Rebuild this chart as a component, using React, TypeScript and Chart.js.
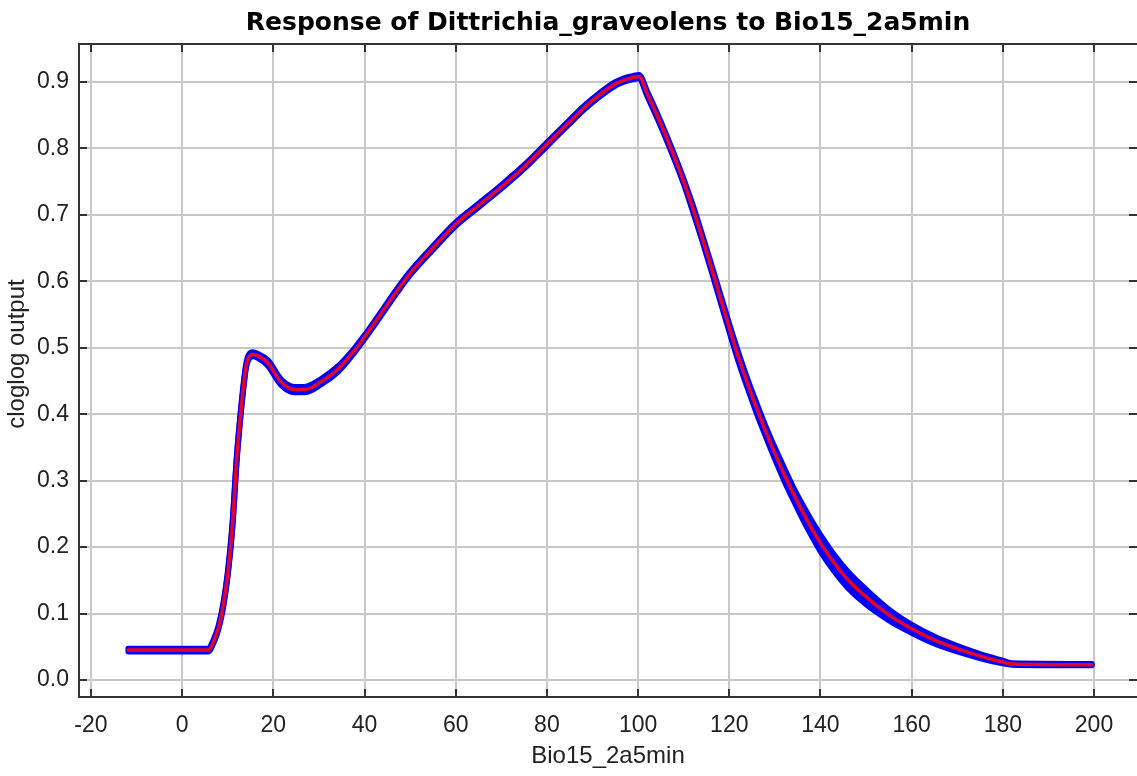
import React, { useEffect, useRef } from "react";
import { Chart, registerables } from "chart.js";

Chart.register(...registerables);

const titleText = "Response of Dittrichia_graveolens to Bio15_2a5min";
const xTitle = "Bio15_2a5min";
const yTitle = "cloglog output";

const xTicks = [-20, 0, 20, 40, 60, 80, 100, 120, 140, 160, 180, 200];
const yTicks = [0.0, 0.1, 0.2, 0.3, 0.4, 0.5, 0.6, 0.7, 0.8, 0.9];

const xValues = [
  -11.8, 5.7, 7, 8, 9, 10, 11, 12, 13, 14, 14.7, 15.5, 16.5, 18.8, 21.7, 24.6, 26.8, 30.5, 34.2, 37.8,
  40, 42.2, 45, 48, 50, 55, 60, 65, 70, 75, 80, 85, 88, 90, 95, 98, 100.2, 102, 104, 106,
  108, 110, 112, 114, 116, 118, 120, 122, 124, 126, 128, 130, 132, 134, 136, 138, 140, 143, 146, 150,
  155, 160, 165, 170, 175, 180, 182, 199.5,
];

const meanValues = [
  0.045, 0.045, 0.06, 0.08, 0.112, 0.16, 0.23, 0.336, 0.413, 0.472, 0.487, 0.49, 0.488, 0.477, 0.448, 0.437, 0.437, 0.449, 0.468, 0.496,
  0.516, 0.537, 0.565, 0.594, 0.612, 0.65, 0.686, 0.714, 0.742, 0.772, 0.806, 0.84, 0.86, 0.872, 0.897, 0.905, 0.908, 0.882, 0.852, 0.82,
  0.786, 0.75, 0.71, 0.667, 0.622, 0.576, 0.53, 0.486, 0.446, 0.409, 0.374, 0.341, 0.31, 0.281, 0.254, 0.229, 0.206, 0.176, 0.151, 0.125,
  0.098, 0.077, 0.06, 0.047, 0.036, 0.027, 0.024, 0.023,
];

const sdValues = [
  0.002, 0.002, 0.002, 0.002, 0.002, 0.002, 0.002, 0.002, 0.002, 0.002, 0.003, 0.003, 0.003, 0.004, 0.004, 0.004, 0.004, 0.004, 0.004, 0.003,
  0.0025, 0.0025, 0.0025, 0.0025, 0.0025, 0.0025, 0.0025, 0.0025, 0.0025, 0.0025, 0.0025, 0.0025, 0.0025, 0.0025, 0.0025, 0.0025, 0.0025, 0.003, 0.003, 0.003,
  0.003, 0.003, 0.004, 0.004, 0.004, 0.005, 0.005, 0.006, 0.006, 0.007, 0.007, 0.008, 0.009, 0.009, 0.01, 0.011, 0.012, 0.012, 0.012, 0.011,
  0.008, 0.006, 0.005, 0.004, 0.003, 0.002, 0.001, 0.001,
];

export default function App() {
  const ref = useRef<HTMLCanvasElement>(null);

  useEffect(() => {
    if (!ref.current) return;
    const upper = xValues.map((x, i) => ({ x, y: meanValues[i] + sdValues[i] }));
    const lower = xValues.map((x, i) => ({ x, y: meanValues[i] - sdValues[i] }));
    const mean = xValues.map((x, i) => ({ x, y: meanValues[i] }));

    const frame = {
      id: "frame",
      afterDraw(chart: any) {
        const { ctx, chartArea } = chart;
        const { left, right, top, bottom } = chartArea;
        const xs = chart.scales.x;
        const ys = chart.scales.y;
        const tl = 8;
        ctx.save();
        ctx.strokeStyle = "#333333";
        ctx.lineWidth = 2;
        ctx.beginPath();
        ctx.moveTo(left - 1, top);
        ctx.lineTo(right, top);
        for (const v of xTicks) {
          const px = Math.round(xs.getPixelForValue(v));
          ctx.moveTo(px, bottom);
          ctx.lineTo(px, bottom - tl);
          ctx.moveTo(px, top);
          ctx.lineTo(px, top + tl);
        }
        for (const v of yTicks) {
          const py = Math.round(ys.getPixelForValue(v));
          ctx.moveTo(left, py);
          ctx.lineTo(left + tl, py);
          ctx.moveTo(right, py);
          ctx.lineTo(right - tl, py);
        }
        ctx.stroke();
        ctx.translate(17, 354);
        ctx.rotate(-Math.PI / 2);
        ctx.fillStyle = "#222222";
        ctx.font = '24px "Liberation Sans", Arial, sans-serif';
        ctx.textAlign = "center";
        ctx.textBaseline = "middle";
        ctx.fillText(yTitle, 0, 0);
        ctx.restore();
      },
    };

    const chart = new Chart(ref.current, {
      type: "line",
      data: {
        datasets: [
          {
            label: "upper",
            data: upper,
            borderColor: "#0000ff",
            backgroundColor: "#0000ff",
            borderWidth: 6,
            pointRadius: 0,
            fill: false,
            cubicInterpolationMode: "monotone",
            borderCapStyle: "round",
            borderJoinStyle: "round",
            order: 3,
          },
          {
            label: "lower",
            data: lower,
            borderColor: "#0000ff",
            backgroundColor: "#0000ff",
            borderWidth: 6,
            pointRadius: 0,
            fill: "-1",
            cubicInterpolationMode: "monotone",
            borderCapStyle: "round",
            borderJoinStyle: "round",
            order: 2,
          },
          {
            label: "mean",
            data: mean,
            borderColor: "rgb(232,0,40)",
            borderWidth: 3.5,
            pointRadius: 0,
            fill: false,
            cubicInterpolationMode: "monotone",
            borderCapStyle: "round",
            borderJoinStyle: "round",
            order: 1,
          },
        ],
      },
      options: {
        responsive: false,
        devicePixelRatio: 1,
        animation: false,
        events: [],
        layout: { padding: { left: 0, right: 0, top: 0, bottom: 0 } },
        plugins: {
          legend: { display: false },
          tooltip: { enabled: false },
          title: {
            display: true,
            text: titleText,
            fullSize: false,
            color: "#000000",
            font: { family: '"DejaVu Sans", sans-serif', weight: "bold", size: 25, lineHeight: 1.2 },
            padding: { top: 8.5, bottom: 5.5 },
          },
        },
        scales: {
          x: {
            type: "linear",
            min: -22.63,
            max: 209.43,
            afterBuildTicks: (axis: any) => {
              axis.ticks = xTicks.map((v) => ({ value: v }));
            },
            afterFit: (axis: any) => {
              axis.height = 79;
            },
            ticks: {
              autoSkip: false,
              maxRotation: 0,
              minRotation: 0,
              padding: 14.7,
              color: "#222222",
              font: { family: '"Liberation Sans", Arial, sans-serif', size: 23, lineHeight: 1.2 },
              callback: (v: any) => String(v),
            },
            grid: { color: "#c8c8c8", lineWidth: 2, drawTicks: false },
            border: { display: true, color: "#333333", width: 2 },
            title: {
              display: true,
              text: xTitle,
              color: "#222222",
              font: { family: '"Liberation Sans", Arial, sans-serif', size: 24, lineHeight: 1.2 },
              padding: { top: 0, bottom: 5 },
            },
          },
          y: {
            type: "linear",
            min: -0.0256,
            max: 0.957,
            afterBuildTicks: (axis: any) => {
              axis.ticks = yTicks.map((v) => ({ value: v }));
            },
            afterFit: (axis: any) => {
              axis.width = 79;
            },
            ticks: {
              autoSkip: false,
              padding: 10,
              color: "#222222",
              font: { family: '"Liberation Sans", Arial, sans-serif', size: 23, lineHeight: 1.2 },
              callback: (v: any) => Number(v).toFixed(1),
            },
            grid: { color: "#c8c8c8", lineWidth: 2, drawTicks: false },
            border: { display: true, color: "#333333", width: 2 },
            title: { display: false },
          },
        },
      },
      plugins: [frame],
    } as any);

    return () => chart.destroy();
  }, []);

  return (
    <div style={{ position: "fixed", left: 0, top: 0, width: 1137, height: 776, background: "#ffffff" }}>
      <canvas ref={ref} width={1137} height={776} style={{ display: "block", width: 1137, height: 776 }} />
    </div>
  );
}
